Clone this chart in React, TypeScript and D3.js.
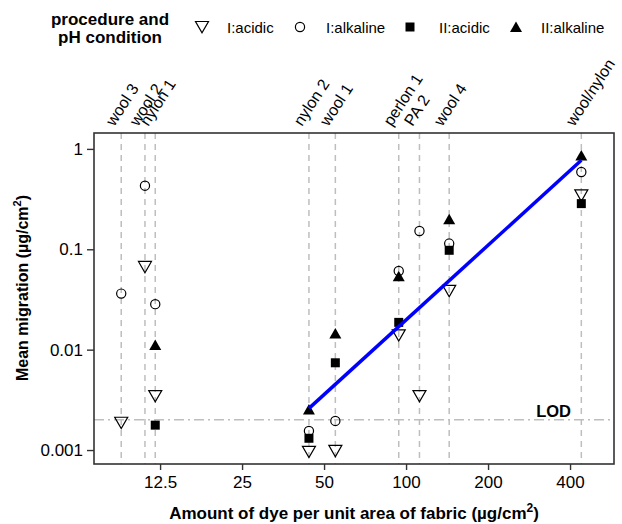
import React, { useEffect, useRef } from 'react';
import * as d3 from 'd3';

// fabric samples (top labels) and the amount of dye on each, µg/cm2
const fabrics = ['wool 3', 'wool 2', 'nylon 1', 'nylon 2', 'wool 1', 'perlon 1', 'PA 2', 'wool 4', 'wool/nylon'];
const dyeAmount = [9, 11, 12, 44, 55, 94, 112, 144, 440];

// mean migration per procedure / pH (null = not shown)
const acidicI = [0.00187, 0.0667, 0.00345, 0.00096, 0.00098, 0.0139, 0.00345, 0.0385, 0.344];
const alkalineI = [0.0362, 0.43, 0.0284, 0.00155, 0.00195, 0.0608, 0.152, 0.114, 0.588];
const acidicII = [null, null, 0.00177, 0.00131, 0.0074, 0.0187, null, 0.0977, 0.285];
const alkalineII = [null, null, 0.0111, 0.00254, 0.0145, 0.0538, null, 0.199, 0.86];

const seriesNames = ['I:acidic', 'I:alkaline', 'II:acidic', 'II:alkaline'];
const xTicks = [12.5, 25, 50, 100, 200, 400];
const yTicks = [1, 0.1, 0.01, 0.001];
const lodValue = 0.002;

// regression line end points
const fitX = [44, 440];
const fitY = [0.0026, 0.77];

const FONT = 'Liberation Sans, Arial, Helvetica, sans-serif';

const shapePath = (shape: string) => {
    if (shape === 'triDown') return 'M-6.5,-5.5L6.5,-5.5L0,5.8Z';
    if (shape === 'triUp') return 'M0,-5.5L6,5L-6,5Z';
    if (shape === 'square') return 'M-4.5,-4.5H4.5V4.5H-4.5Z';
    return d3.arc()({ innerRadius: 0, outerRadius: 4.6, startAngle: 0, endAngle: 2 * Math.PI }) as string;
};

const App = () => {
    const ref = useRef<SVGSVGElement>(null);

    useEffect(() => {
        const svg = d3.select(ref.current);
        svg.selectAll('*').remove();

        const margin = { top: 133, right: 8, bottom: 60, left: 94 };
        const width = 622;
        const plotW = width - margin.left - margin.right;

        const x = d3.scaleLog().base(2).domain([7.15, 580]).range([margin.left, margin.left + plotW]);
        const y = d3.scaleLog().domain([0.000726, 1.44]).range([464, margin.top]);

        const series = [
            { name: seriesNames[0], values: acidicI, shape: 'triDown' },
            { name: seriesNames[1], values: alkalineI, shape: 'circle' },
            { name: seriesNames[2], values: acidicII, shape: 'square' },
            { name: seriesNames[3], values: alkalineII, shape: 'triUp' }
        ];

        const styleShape = (sel: any, shape: string) => {
            const filled = shape === 'square' || shape === 'triUp';
            sel.attr('d', shapePath(shape))
                .attr('fill', filled ? '#000' : 'none')
                .attr('stroke', filled ? 'none' : '#000')
                .attr('stroke-width', 1.2);
        };

        // fabric guide lines
        svg.append('g')
            .selectAll('line')
            .data(dyeAmount)
            .join('line')
            .attr('x1', d => x(d))
            .attr('x2', d => x(d))
            .attr('y1', y.range()[1])
            .attr('y2', y.range()[0])
            .attr('stroke', '#bebebe')
            .attr('stroke-width', 1.5)
            .attr('stroke-dasharray', '6,5');

        // LOD line
        svg.append('line')
            .attr('x1', x.range()[0])
            .attr('x2', x.range()[1])
            .attr('y1', y(lodValue))
            .attr('y2', y(lodValue))
            .attr('stroke', '#bebebe')
            .attr('stroke-width', 1.5)
            .attr('stroke-dasharray', '10,4,2,4');

        svg.append('text')
            .attr('x', 571)
            .attr('y', y(lodValue) - 3)
            .attr('text-anchor', 'end')
            .attr('font-family', FONT)
            .attr('font-weight', 'bold')
            .attr('font-size', 16.5)
            .text('LOD');

        // points
        series.forEach(s => {
            svg.append('g')
                .selectAll('path')
                .data(s.values.map((v, i) => ({ x: dyeAmount[i], v })).filter(d => d.v != null))
                .join('path')
                .attr('transform', d => `translate(${x(d.x)},${y(d.v as number)})`)
                .call(styleShape, s.shape);
        });

        // fitted line
        svg.append('path')
            .datum(fitX.map((d, i) => [d, fitY[i]]))
            .attr('fill', 'none')
            .attr('stroke', '#0000ff')
            .attr('stroke-width', 3.5)
            .attr('d', d3.line<number[]>().x(d => x(d[0])).y(d => y(d[1])));

        // frame
        svg.append('rect')
            .attr('x', x.range()[0])
            .attr('y', y.range()[1])
            .attr('width', plotW)
            .attr('height', y.range()[0] - y.range()[1])
            .attr('fill', 'none')
            .attr('stroke', '#333')
            .attr('stroke-width', 1.6);

        // y axis
        const yAxis = svg.append('g')
            .attr('transform', `translate(${x.range()[0]},0)`)
            .call(d3.axisLeft(y).tickValues(yTicks).tickFormat(d => String(d)).tickSize(7).tickPadding(4).tickSizeOuter(0));
        yAxis.select('.domain').remove();
        yAxis.selectAll('line').attr('stroke', '#333').attr('stroke-width', 1.4);
        yAxis.selectAll('text').attr('font-family', FONT).attr('font-size', 17).attr('fill', '#000');

        // x axis
        const xAxis = svg.append('g')
            .attr('transform', `translate(0,${y.range()[0]})`)
            .call(d3.axisBottom(x).tickValues(xTicks).tickFormat(d => String(d)).tickSize(6).tickPadding(6).tickSizeOuter(0));
        xAxis.select('.domain').remove();
        xAxis.selectAll('line').attr('stroke', '#333').attr('stroke-width', 1.4);
        xAxis.selectAll('text').attr('font-family', FONT).attr('font-size', 17).attr('fill', '#000');

        // fabric labels on top
        svg.append('g')
            .selectAll('text')
            .data(fabrics)
            .join('text')
            .attr('transform', (d, i) => `translate(${x(dyeAmount[i]) - 7},127) rotate(-57)`)
            .attr('font-family', FONT)
            .attr('font-size', 16)
            .text(d => d);

        // axis titles
        const xTitle = svg.append('text')
            .attr('x', 354)
            .attr('y', 519)
            .attr('text-anchor', 'middle')
            .attr('font-family', FONT)
            .attr('font-weight', 'bold')
            .attr('font-size', 17);
        xTitle.append('tspan').text('Amount of dye per unit area of fabric (µg/cm');
        xTitle.append('tspan').attr('font-size', 12).attr('dy', -7).text('2');
        xTitle.append('tspan').attr('dy', 7).text(')');

        const yTitle = svg.append('text')
            .attr('transform', 'translate(28,288) rotate(-90)')
            .attr('text-anchor', 'middle')
            .attr('font-family', FONT)
            .attr('font-weight', 'bold')
            .attr('font-size', 16);
        yTitle.append('tspan').text('Mean migration (µg/cm');
        yTitle.append('tspan').attr('font-size', 11).attr('dy', -7).text('2');
        yTitle.append('tspan').attr('dy', 7).text(')');

        // legend
        const legTitle = svg.append('text')
            .attr('text-anchor', 'middle')
            .attr('font-family', FONT)
            .attr('font-weight', 'bold')
            .attr('font-size', 17);
        legTitle.append('tspan').attr('x', 110).attr('y', 25).text('procedure and');
        legTitle.append('tspan').attr('x', 110).attr('y', 43).text('pH condition');

        const legSym = [202, 300, 410, 516];
        const legText = [227, 326, 439, 541];
        series.forEach((s, i) => {
            svg.append('path')
                .attr('transform', `translate(${legSym[i]},27)`)
                .call(styleShape, s.shape);
            svg.append('text')
                .attr('x', legText[i])
                .attr('y', 32.5)
                .attr('font-family', FONT)
                .attr('font-size', 15)
                .text(s.name);
        });
    }, []);

    return (
        <svg
            ref={ref}
            width={622}
            height={524}
            style={{ position: 'absolute', left: 0, top: 0, background: '#fff' }}
        />
    );
};

export default App;
